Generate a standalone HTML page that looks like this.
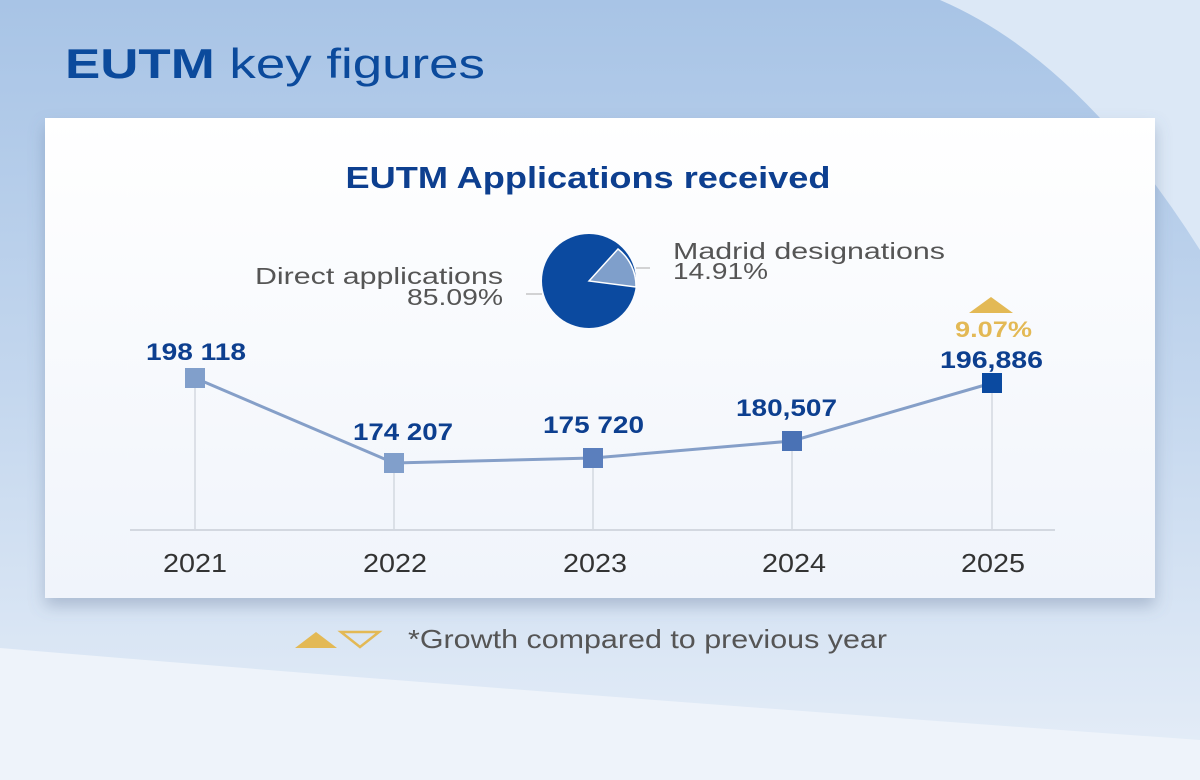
<!DOCTYPE html>
<html><head><meta charset="utf-8"><style>
html,body{margin:0;padding:0;width:1200px;height:780px;overflow:hidden}
svg{display:block}
text{font-family:"Liberation Sans",sans-serif}
</style></head><body>
<svg width="1200" height="780" viewBox="0 0 1200 780">
<defs>
<linearGradient id="bg" x1="0" y1="0" x2="0" y2="1">
<stop offset="0" stop-color="#a8c4e6"/><stop offset="0.5" stop-color="#c4d7ee"/><stop offset="1" stop-color="#e6eef8"/>
</linearGradient>
<linearGradient id="card" x1="0" y1="0" x2="0" y2="1">
<stop offset="0" stop-color="#ffffff"/><stop offset="1" stop-color="#f0f4fb"/>
</linearGradient>
<filter id="sh" x="-5%" y="-5%" width="110%" height="115%"><feDropShadow dx="0" dy="8" stdDeviation="8" flood-color="#5a6f90" flood-opacity="0.35"/></filter>
</defs>
<rect width="1200" height="780" fill="url(#bg)"/>
<path d="M940 0 Q1080 60 1200 250 L1200 0 Z" fill="#dce8f6"/>
<path d="M0 648 Q500 690 1200 740 L1200 780 L0 780 Z" fill="#eef3fa"/>
<text x="65" y="78" font-size="42" fill="#0b4a9c" textLength="420" lengthAdjust="spacingAndGlyphs"><tspan font-weight="bold">EUTM</tspan> key figures</text>
<rect x="45" y="118" width="1110" height="480" fill="url(#card)" filter="url(#sh)"/>
<text x="588" y="188" font-size="31" font-weight="bold" fill="#0d3f8f" text-anchor="middle" textLength="485" lengthAdjust="spacingAndGlyphs">EUTM Applications received</text>
<circle cx="589" cy="281" r="47" fill="#0b4aa0"/>
<path d="M589 281 L618 249 A47 47 0 0 1 636 287 Z" fill="#7f9fcb" stroke="#fff" stroke-width="1.5"/>
<line x1="636" y1="268" x2="650" y2="268" stroke="#aaa"/>
<line x1="526" y1="294" x2="542" y2="294" stroke="#aaa"/>
<g font-size="23" fill="#555">
<text x="255" y="284" textLength="248" lengthAdjust="spacingAndGlyphs">Direct applications</text>
<text x="407" y="305" textLength="96" lengthAdjust="spacingAndGlyphs">85.09%</text>
<text x="673" y="259" textLength="272" lengthAdjust="spacingAndGlyphs">Madrid designations</text>
<text x="673" y="279" textLength="95" lengthAdjust="spacingAndGlyphs">14.91%</text>
</g>
<line x1="130" y1="530" x2="1055" y2="530" stroke="#d3d8e0" stroke-width="2"/>
<g stroke="#d3d8e0" stroke-width="1.5">
<line x1="195" y1="378" x2="195" y2="530"/><line x1="394" y1="463" x2="394" y2="530"/>
<line x1="593" y1="458" x2="593" y2="530"/><line x1="792" y1="441" x2="792" y2="530"/>
<line x1="992" y1="383" x2="992" y2="530"/>
</g>
<polyline points="195,378 394,463 593,458 792,441 992,383" fill="none" stroke="#859fc8" stroke-width="3"/>
<rect x="185" y="368" width="20" height="20" fill="#819fcb"/>
<rect x="384" y="453" width="20" height="20" fill="#819fcb"/>
<rect x="583" y="448" width="20" height="20" fill="#5b7fbd"/>
<rect x="782" y="431" width="20" height="20" fill="#4a72b5"/>
<rect x="982" y="373" width="20" height="20" fill="#0b4aa0"/>
<g font-size="24" font-weight="bold" fill="#0d3f8f">
<text x="146" y="360" textLength="100" lengthAdjust="spacingAndGlyphs">198 118</text>
<text x="353" y="440" textLength="100" lengthAdjust="spacingAndGlyphs">174 207</text>
<text x="543" y="433" textLength="101" lengthAdjust="spacingAndGlyphs">175 720</text>
<text x="736" y="416" textLength="101" lengthAdjust="spacingAndGlyphs">180,507</text>
<text x="940" y="368" textLength="103" lengthAdjust="spacingAndGlyphs">196,886</text>
</g>
<polygon points="991,297 1013,313 969,313" fill="#e3b955"/>
<text x="955" y="337" font-size="22" font-weight="bold" fill="#e3b955" textLength="77" lengthAdjust="spacingAndGlyphs">9.07%</text>
<g font-size="26" fill="#333">
<text x="195" y="572" text-anchor="middle" textLength="64" lengthAdjust="spacingAndGlyphs">2021</text>
<text x="395" y="572" text-anchor="middle" textLength="64" lengthAdjust="spacingAndGlyphs">2022</text>
<text x="595" y="572" text-anchor="middle" textLength="64" lengthAdjust="spacingAndGlyphs">2023</text>
<text x="794" y="572" text-anchor="middle" textLength="64" lengthAdjust="spacingAndGlyphs">2024</text>
<text x="993" y="572" text-anchor="middle" textLength="64" lengthAdjust="spacingAndGlyphs">2025</text>
</g>
<polygon points="316,632 337,648 295,648" fill="#e3b955"/>
<polygon points="341,632 379,632 360,647" fill="none" stroke="#e3b955" stroke-width="2.5"/>
<text x="408" y="648" font-size="26" fill="#555" textLength="479" lengthAdjust="spacingAndGlyphs">*Growth compared to previous year</text>
</svg>
</body></html>
